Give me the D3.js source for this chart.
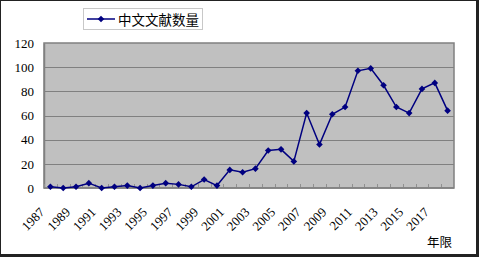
<!DOCTYPE html>
<html>
<head>
<meta charset="utf-8">
<script src="https://cdn.jsdelivr.net/npm/d3@7"></script>
<style>
    body { margin: 0; background: #fff; }
</style>
</head>
<body>
<svg width="479" height="257"></svg>
<script>
/*
    Line chart of number of Chinese papers per year.
*/

// Data
let years = [1987, 1988, 1989, 1990, 1991, 1992, 1993, 1994, 1995, 1996, 1997, 1998, 1999, 2000, 2001, 2002,
             2003, 2004, 2005, 2006, 2007, 2008, 2009, 2010, 2011, 2012, 2013, 2014, 2015, 2016, 2017, 2018];
let counts = [1, 0, 1, 4, 0, 1, 2, 0, 2, 4, 3, 1, 7, 2, 15, 13,
              16, 31, 32, 22, 62, 36, 61, 67, 97, 99, 85, 67, 62, 82, 87, 64];
let xTickYears = [1987, 1989, 1991, 1993, 1995, 1997, 1999, 2001, 2003, 2005, 2007, 2009, 2011, 2013, 2015, 2017];
let yTicks = [0, 20, 40, 60, 80, 100, 120];
let seriesName = '中文文献数量';
let xTitle = '年限';

// Select the svg element
let svg = d3.select('svg');

// Define constants
let margin = {top: 43, right: 25, bottom: 69, left: 44};
let width = +svg.attr('width');
let height = +svg.attr('height');
let lineColor = '#000080';
let serif = '"Liberation Serif", "DejaVu Serif", serif';
let cjk = '"Noto Sans CJK SC", sans-serif';

let data = years.map((yr, i) => ({year: yr, value: counts[i]}));

// Outer frame
svg.append('rect')
    .attr('x', 0.5).attr('y', 0.5)
    .attr('width', width - 2).attr('height', height - 2)
    .attr('fill', '#fff')
    .attr('stroke', '#222')
    .attr('stroke-width', 1)
svg.append('rect')
    .attr('x', width - 3).attr('y', 0)
    .attr('width', 3).attr('height', height)
    .attr('fill', '#222')
svg.append('rect')
    .attr('x', 0).attr('y', height - 3)
    .attr('width', width).attr('height', 3)
    .attr('fill', '#222')

// Scales
let x = d3.scaleBand()
            .domain(years)
            .range([margin.left, width - margin.right])

let y = d3.scaleLinear()
            .domain([0, 120])
            .range([height - margin.bottom, margin.top])

// Plot area background
svg.append('rect')
    .attr('x', margin.left)
    .attr('y', margin.top)
    .attr('width', width - margin.left - margin.right)
    .attr('height', height - margin.top - margin.bottom)
    .attr('fill', '#c0c0c0')
    .attr('stroke', '#808080')
    .attr('stroke-width', 1.5)

// Gridlines
svg.append('g')
    .selectAll('line')
    .data(yTicks.filter(d => d > 0 && d < 120))
    .enter().append('line')
    .attr('x1', margin.left)
    .attr('x2', width - margin.right)
    .attr('y1', d => Math.round(y(d)) + 0.5)
    .attr('y2', d => Math.round(y(d)) + 0.5)
    .attr('stroke', '#808080')
    .attr('stroke-width', 1)

// Y axis
let yAxis = svg.append('g')
    .attr('transform', 'translate(' + margin.left + ',0)')
    .call(d3.axisLeft(y).tickValues(yTicks).tickSize(0).tickPadding(10))
yAxis.select('.domain').attr('stroke', '#808080').attr('stroke-width', 1.5)
yAxis.selectAll('text')
    .attr('font-family', serif)
    .attr('font-size', '13px')
    .attr('fill', '#000')

// X axis line with inside ticks at category boundaries
let xAxisY = height - margin.bottom;
svg.append('g')
    .selectAll('line')
    .data(years)
    .enter().append('line')
    .attr('x1', d => Math.round(x(d)) + 0.5)
    .attr('x2', d => Math.round(x(d)) + 0.5)
    .attr('y1', xAxisY - 4)
    .attr('y2', xAxisY)
    .attr('stroke', '#909090')
    .attr('stroke-width', 1)
svg.append('line')
    .attr('x1', margin.left)
    .attr('x2', width - margin.right)
    .attr('y1', xAxisY)
    .attr('y2', xAxisY)
    .attr('stroke', '#808080')
    .attr('stroke-width', 1.5)

// X tick labels, rotated
svg.append('g')
    .selectAll('text')
    .data(xTickYears)
    .enter().append('text')
    .attr('transform', d => 'translate(' + (x(d) + x.bandwidth() / 2 - 5) + ',' + (xAxisY + 25) + ') rotate(-45)')
    .attr('text-anchor', 'end')
    .attr('font-family', serif)
    .attr('font-size', '13px')
    .attr('fill', '#000')
    .text(d => d)

// Line
let line = d3.line()
    .x(d => x(d.year) + x.bandwidth() / 2)
    .y(d => y(d.value))

svg.append('path')
    .datum(data)
    .attr('d', line)
    .attr('fill', 'none')
    .attr('stroke', lineColor)
    .attr('stroke-width', 1.5)

// Diamond markers
let marker = d3.symbol().type(d3.symbolSquare).size(22);
svg.append('g')
    .selectAll('path')
    .data(data)
    .enter().append('path')
    .attr('d', marker)
    .attr('transform', d => 'translate(' + (x(d.year) + x.bandwidth() / 2) + ',' + y(d.value) + ') rotate(45)')
    .attr('fill', lineColor)

// Legend
let legend = svg.append('g')
legend.append('rect')
    .attr('x', 83.5).attr('y', 8.5)
    .attr('width', 119).attr('height', 21)
    .attr('fill', '#fff')
    .attr('stroke', '#c8c8c8')
legend.append('line')
    .attr('x1', 87).attr('x2', 115)
    .attr('y1', 19).attr('y2', 19)
    .attr('stroke', lineColor)
    .attr('stroke-width', 1.5)
legend.append('path')
    .attr('d', marker)
    .attr('transform', 'translate(101,19) rotate(45)')
    .attr('fill', lineColor)
legend.append('text')
    .attr('x', 118).attr('y', 24.5)
    .attr('font-family', cjk)
    .attr('font-size', '13.5px')
    .attr('fill', '#000')
    .text(seriesName)

// X axis title
svg.append('text')
    .attr('x', 427).attr('y', 247)
    .attr('font-family', cjk)
    .attr('font-size', '12.5px')
    .attr('fill', '#000')
    .text(xTitle)
</script>
</body>
</html>
